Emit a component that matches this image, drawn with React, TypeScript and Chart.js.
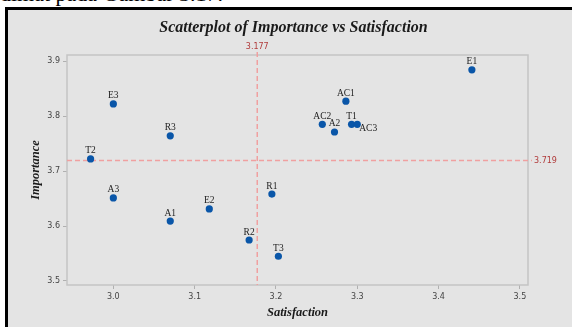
import React, { useEffect, useRef } from "react";
import { Chart, registerables } from "chart.js";

Chart.register(...registerables);

const labels = ["E1", "AC1", "AC2", "A2", "T1", "AC3", "E3", "R3", "T2", "A3", "A1", "E2", "R2", "R1", "T3"];
const satisfaction = [3.441, 3.286, 3.257, 3.272, 3.293, 3.300, 3.0, 3.07, 2.972, 3.0, 3.07, 3.118, 3.167, 3.195, 3.203];
const importance = [3.884, 3.827, 3.785, 3.771, 3.785, 3.785, 3.822, 3.764, 3.722, 3.651, 3.609, 3.631, 3.5745, 3.658, 3.545];
const xTicks = [3.0, 3.1, 3.2, 3.3, 3.4, 3.5];
const yTicks = [3.5, 3.6, 3.7, 3.8, 3.9];
const refX = 3.177;
const refY = 3.719;
const rightLabels = ["AC3"];

const App = () => {
  const ref = useRef<HTMLCanvasElement | null>(null);
  useEffect(() => {
    if (!ref.current) return;
    const overlay = {
      id: "overlay",
      beforeDatasetsDraw(chart: any) {
        const { ctx, chartArea: a, scales } = chart;
        const xs = scales.x, ys = scales.y;
        ctx.save();
        // frame
        ctx.strokeStyle = "#c4c4c4";
        ctx.lineWidth = 1.5;
        ctx.strokeRect(a.left, a.top, a.right - a.left, a.bottom - a.top);
        // reference lines
        ctx.strokeStyle = "#f0a0a0";
        ctx.lineWidth = 1.5;
        ctx.setLineDash([5, 3]);
        const px = xs.getPixelForValue(refX);
        const py = ys.getPixelForValue(refY);
        ctx.beginPath();
        ctx.moveTo(px, a.top - 3);
        ctx.lineTo(px, a.bottom);
        ctx.moveTo(a.left, py);
        ctx.lineTo(a.right + 4, py);
        ctx.stroke();
        ctx.setLineDash([]);
        ctx.fillStyle = "#b03a3a";
        ctx.font = "8px 'DejaVu Sans'";
        ctx.textAlign = "center";
        ctx.textBaseline = "middle";
        ctx.fillText(refX.toFixed(3), px, a.top - 8);
        ctx.textAlign = "left";
        ctx.fillText(refY.toFixed(3), a.right + 6, py);
        // title
        ctx.fillStyle = "#1a1a1a";
        ctx.font = "bold italic 16px 'Liberation Serif'";
        ctx.textAlign = "center";
        ctx.fillText("Scatterplot of Importance vs Satisfaction", (a.left + a.right) / 2 - 4, 18);
        ctx.restore();
      },
      afterDatasetsDraw(chart: any) {
        const { ctx, scales } = chart;
        ctx.save();
        ctx.fillStyle = "#222";
        ctx.font = "9.5px 'Liberation Serif'";
        labels.forEach((l, i) => {
          const x = scales.x.getPixelForValue(satisfaction[i]);
          const y = scales.y.getPixelForValue(importance[i]);
          if (rightLabels.includes(l)) {
            ctx.textAlign = "left";
            ctx.textBaseline = "middle";
            ctx.fillText(l, x + 2, y + 4);
          } else {
            ctx.textAlign = "center";
            ctx.textBaseline = "middle";
            ctx.fillText(l, x, y - 8);
          }
        });
        ctx.restore();
      },
    };
    const chart = new Chart(ref.current, {
      type: "scatter",
      data: {
        datasets: [
          {
            data: satisfaction.map((s, i) => ({ x: s, y: importance[i] })),
            backgroundColor: "#0a56a8",
            borderWidth: 0,
            pointRadius: 3.6,
          },
        ],
      },
      options: {
        animation: false,
        responsive: false,
        layout: { padding: { top: 45, right: 44, left: 0, bottom: 0 } },
        plugins: { legend: { display: false }, tooltip: { enabled: false } },
        scales: {
          x: {
            type: "linear",
            min: 2.943,
            max: 3.51,
            afterBuildTicks: (s: any) => {
              s.ticks = xTicks.map((v) => ({ value: v }));
            },
            afterFit: (s: any) => {
              s.height = 42;
            },
            grid: { drawOnChartArea: false, tickLength: 4, color: "#b0b0b0" },
            border: { display: false },
            ticks: {
              color: "#444",
              font: { family: "'DejaVu Sans'", size: 8 },
              padding: 3,
              callback: (v: any) => Number(v).toFixed(1),
            },
            title: {
              display: true,
              text: "Satisfaction",
              color: "#1a1a1a",
              font: { family: "'Liberation Serif'", size: 12.5, style: "italic", weight: "bold" },
              padding: 7,
            },
          },
          y: {
            type: "linear",
            min: 3.4927,
            max: 3.911,
            afterBuildTicks: (s: any) => {
              s.ticks = yTicks.map((v) => ({ value: v }));
            },
            afterFit: (s: any) => {
              s.width = 59;
            },
            grid: { drawOnChartArea: false, tickLength: 4, color: "#b0b0b0" },
            border: { display: false },
            ticks: {
              color: "#444",
              font: { family: "'DejaVu Sans'", size: 8 },
              padding: 3,
              callback: (v: any) => Number(v).toFixed(1),
            },
            title: {
              display: true,
              text: "Importance",
              color: "#1a1a1a",
              font: { family: "'Liberation Serif'", size: 12.5, style: "italic", weight: "bold" },
              padding: 20,
            },
          },
        },
      },
      plugins: [overlay],
    } as any);
    return () => chart.destroy();
  }, []);

  return (
    <div style={{ position: "fixed", left: 0, top: 0, width: 572, height: 327, overflow: "hidden", background: "#fff" }}>
      <div
        style={{
          position: "absolute",
          left: 0,
          top: -17,
          fontFamily: "'Liberation Serif', serif",
          fontSize: 22,
          lineHeight: "22px",
          color: "#000",
          whiteSpace: "nowrap",
        }}
      >
        dimat pada Gambar 3.17.
      </div>
      <div
        style={{
          position: "absolute",
          left: 5,
          top: 7,
          width: 567,
          height: 330,
          borderLeft: "3px solid #000",
          borderTop: "3px solid #000",
          background: "#e4e4e4",
        }}
      />
      <canvas ref={ref} width={564} height={317} style={{ position: "absolute", left: 8, top: 10, width: 564, height: 317 }} />
    </div>
  );
};

export default App;
